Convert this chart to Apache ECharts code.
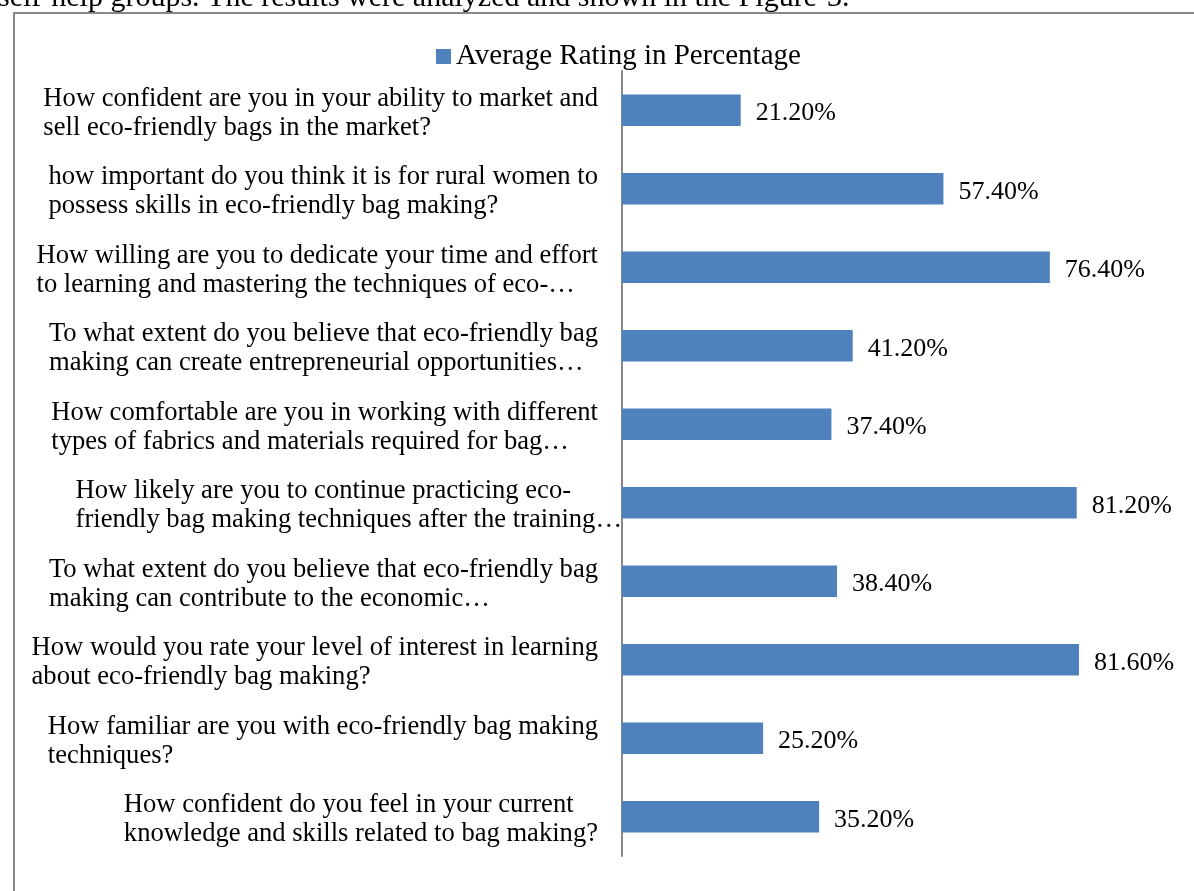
<!DOCTYPE html>
<html>
<head>
<meta charset="utf-8">
<title>Average Rating in Percentage</title>
<script src="https://cdn.jsdelivr.net/npm/echarts@6/dist/echarts.min.js"></script>
<style>
  html, body { margin: 0; padding: 0; background: #ffffff; }
  #chart { width: 1194px; height: 891px; }
</style>
</head>
<body>
<div id="chart"></div>
<script>
// Survey questions, top to bottom, with the line breaks used on the axis
const questions = [
  'How confident are you in your ability to market and\nsell eco-friendly bags in the market?',
  'how important do you think it is for rural women to\npossess skills in eco-friendly bag making?',
  'How willing are you to dedicate your time and effort\nto learning and mastering the techniques of eco-…',
  'To what extent do you believe that eco-friendly bag\nmaking can create entrepreneurial opportunities…',
  'How comfortable are you in working with different\ntypes of fabrics and materials required for bag…',
  'How likely are you to continue practicing eco-\nfriendly bag making techniques after the training…',
  'To what extent do you believe that eco-friendly bag\nmaking can contribute to the economic…',
  'How would you rate your level of interest in learning\nabout eco-friendly bag making?',
  'How familiar are you with eco-friendly bag making\ntechniques?',
  'How confident do you feel in your current\nknowledge and skills related to bag making?'
];

// Average rating per question, in percent
const ratings = [21.2, 57.4, 76.4, 41.2, 37.4, 81.2, 38.4, 81.6, 25.2, 35.2];

const seriesName = 'Average Rating in Percentage';
const introText = 'self-help groups. The results were analyzed and shown in the Figure-3.';

// the long sixth question runs right up to the axis line
const flushLabelIndex = 5;

const serif = '"Liberation Serif", "Times New Roman", serif';

const chart = echarts.init(document.getElementById('chart'), null, { renderer: 'canvas' });

const questionStyle = {
  fontFamily: serif,
  fontSize: 26.6,
  lineHeight: 29,
  color: '#000000',
  align: 'left'
};

chart.setOption({
  backgroundColor: '#ffffff',
  animation: false,
  textStyle: { fontFamily: serif, color: '#000000' },
  graphic: [
    {
      type: 'rect',
      silent: true,
      shape: { x: 14, y: 13, width: 1220, height: 920 },
      style: { fill: 'none', stroke: '#878787', lineWidth: 2 }
    },
    {
      type: 'text',
      silent: true,
      x: -2,
      y: 13,
      style: {
        text: introText,
        font: '30px ' + serif,
        fill: '#000000',
        verticalAlign: 'bottom'
      }
    }
  ],
  legend: {
    data: [seriesName],
    left: 431,
    top: 37,
    itemWidth: 15,
    itemHeight: 15,
    icon: 'rect',
    textStyle: { fontFamily: serif, fontSize: 29, color: '#000000' }
  },
  grid: {
    left: 622,
    top: 71,
    width: 560,
    height: 785,
    containLabel: false
  },
  xAxis: {
    type: 'value',
    min: 0,
    max: 100,
    show: false
  },
  yAxis: {
    type: 'category',
    inverse: true,
    data: questions,
    axisLine: { show: true, lineStyle: { color: '#878787', width: 2 } },
    axisTick: { show: false },
    splitLine: { show: false },
    axisLabel: {
      margin: 0,
      align: 'right',
      verticalAlign: 'middle',
      padding: [6, 0, 0, 0],
      formatter: function (v, i) {
        const key = i === flushLabelIndex ? 'f' : 'q';
        return v.split('\n').map(function (line) { return '{' + key + '|' + line + '}'; }).join('\n');
      },
      rich: {
        q: Object.assign({ padding: [0, 24, 0, 0] }, questionStyle),
        f: Object.assign({ padding: [0, 0, 0, 0] }, questionStyle)
      }
    }
  },
  series: [
    {
      name: seriesName,
      type: 'bar',
      data: ratings,
      barWidth: '40%',
      itemStyle: { color: '#4F81BD' },
      label: {
        show: true,
        position: 'right',
        distance: 15,
        offset: [0, 3],
        fontFamily: serif,
        fontSize: 26,
        color: '#000000',
        formatter: function (p) { return p.value.toFixed(2) + '%'; }
      }
    }
  ]
});
</script>
</body>
</html>
